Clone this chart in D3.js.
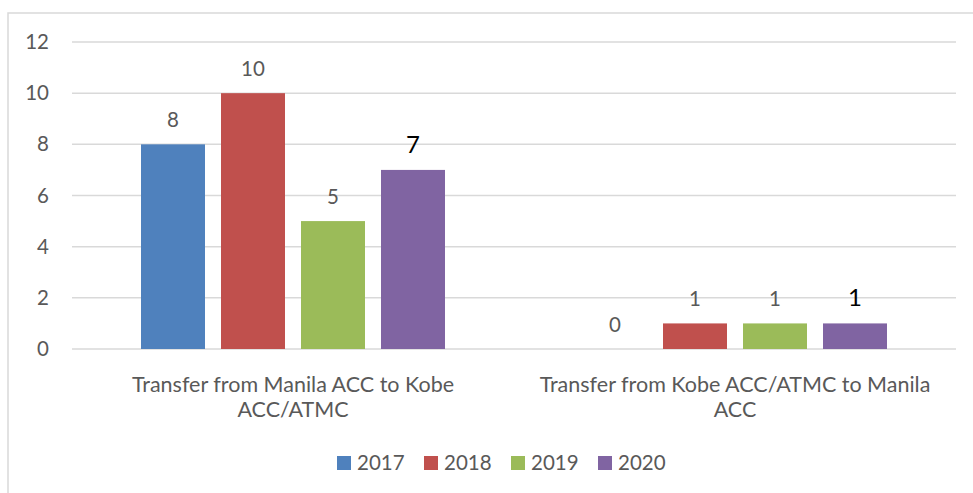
<!DOCTYPE html>
<html>
<head>
<meta charset="utf-8">
<script src="https://cdn.jsdelivr.net/npm/d3@7"></script>
<style>
  body { margin: 0; background: #fff; }
  text { font-family: Lato, "Open Sans", sans-serif; }
</style>
</head>
<body>
<div id="chart"></div>
<script>
// dados
const categories = ["manila_kobe", "kobe_manila"];
const categoryLines = [
    ["Transfer from Manila ACC to Kobe", "ACC/ATMC"],
    ["Transfer from Kobe ACC/ATMC to Manila", "ACC"]
];
const series = ["2017", "2018", "2019", "2020"];
const values2017 = [8, 0];
const values2018 = [10, 1];
const values2019 = [5, 1];
const values2020 = [7, 1];
const yTicks = [0, 2, 4, 6, 8, 10, 12];
const colors = ["#4F81BD", "#C0504D", "#9BBB59", "#8064A2"];

const allValues = [values2017, values2018, values2019, values2020];

const W = 973, H = 493;
const plot = { left: 72, right: 956, top: 42, bottom: 349 };

const svg = d3.select("#chart").append("svg")
    .attr("width", W)
    .attr("height", H);

// moldura
svg.append("rect")
    .attr("x", 8).attr("y", 13)
    .attr("width", 1000).attr("height", 520)
    .attr("fill", "none")
    .attr("stroke", "#d9d9d9")
    .attr("stroke-width", 1.5);

const x0 = d3.scaleBand()
    .domain(categories)
    .range([plot.left, plot.right])
    .padding(0);

const x1 = d3.scaleBand()
    .domain(series)
    .range([0, x0.bandwidth()])
    .paddingInner(0.2)
    .paddingOuter(0.8625);

const y = d3.scaleLinear()
    .domain([0, 12])
    .range([plot.bottom, plot.top]);

// linhas de grade
svg.append("g")
    .selectAll("line")
    .data(yTicks)
    .join("line")
    .attr("x1", plot.left)
    .attr("x2", plot.right)
    .attr("y1", d => y(d))
    .attr("y2", d => y(d))
    .attr("stroke", "#d9d9d9")
    .attr("stroke-width", 1.5);

// eixo y
const yAxis = d3.axisLeft(y).tickValues(yTicks).tickSize(0).tickPadding(0);
svg.append("g")
    .attr("transform", "translate(49,0)")
    .call(yAxis)
    .call(g => g.select(".domain").remove())
    .call(g => g.selectAll("text")
        .attr("fill", "#595959")
        .style("font-size", "20.5px")
        .style("font-family", "Lato, sans-serif"));

// barras
const groups = svg.append("g")
    .selectAll("g")
    .data(series)
    .join("g")
    .attr("fill", (d, i) => colors[i]);

groups.selectAll("rect")
    .data((s, si) => categories.map((c, ci) => ({ s: s, si: si, c: c, v: allValues[si][ci] })))
    .join("rect")
    .attr("x", d => x0(d.c) + x1(d.s))
    .attr("y", d => y(d.v))
    .attr("width", x1.bandwidth())
    .attr("height", d => y(0) - y(d.v));

// rótulos de dados
groups.selectAll("text")
    .data((s, si) => categories.map((c, ci) => ({ s: s, si: si, c: c, v: allValues[si][ci] })))
    .join("text")
    .attr("x", d => x0(d.c) + x1(d.s) + x1.bandwidth() / 2)
    .attr("y", d => y(d.v) - 17)
    .attr("text-anchor", "middle")
    .attr("fill", d => d.si === 3 ? "#000" : "#595959")
    .style("font-size", d => d.si === 3 ? "24px" : "20.5px")
    .text(d => d.v);

// rótulos das categorias
const catLabels = svg.append("g")
    .selectAll("text")
    .data(categories)
    .join("text")
    .attr("x", d => x0(d) + x0.bandwidth() / 2)
    .attr("y", 392)
    .attr("text-anchor", "middle")
    .attr("fill", "#595959")
    .style("font-size", "21.5px");

catLabels.selectAll("tspan")
    .data((d, i) => categoryLines[i])
    .join("tspan")
    .attr("x", function() { return this.parentNode.getAttribute("x"); })
    .attr("dy", (d, i) => i === 0 ? 0 : 25)
    .text(d => d);

// legenda
const legend = svg.append("g")
    .selectAll("g")
    .data(series)
    .join("g")
    .attr("transform", (d, i) => `translate(${337 + i * 87},456)`);

legend.append("rect")
    .attr("width", 14)
    .attr("height", 14)
    .attr("fill", (d, i) => colors[i]);

legend.append("text")
    .attr("x", 20)
    .attr("y", 13.5)
    .attr("fill", "#595959")
    .style("font-size", "20.5px")
    .text(d => d);
</script>
</body>
</html>
